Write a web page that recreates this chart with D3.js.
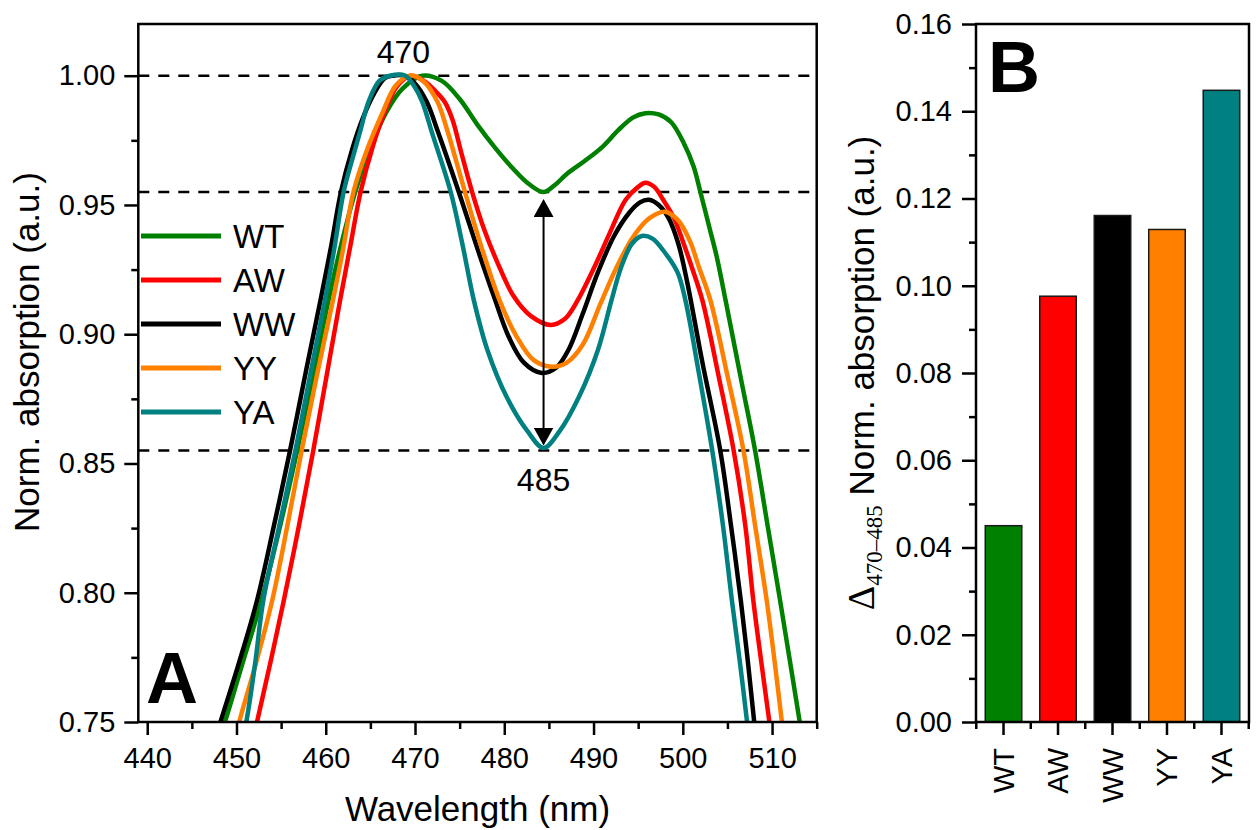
<!DOCTYPE html>
<html>
<head>
<meta charset="utf-8">
<script src="https://cdn.jsdelivr.net/npm/d3@7"></script>
<style>
body { margin: 0; background: #fff; }
text { font-family: "Liberation Sans", Arial, sans-serif; fill: #000; }
</style>
</head>
<body>
<svg id="chart" width="1256" height="830"></svg>
<script>
// ---- data ----
var seriesNames = ["WT", "AW", "WW", "YY", "YA"];
var seriesColors = ["#008000", "#ff0000", "#000000", "#ff8000", "#008080"];

// [wavelength nm, normalised absorption]
var wt = [[446.5,0.728],[448.7,0.75],[450.7,0.773],[452.8,0.797],[454.9,0.826],[456.8,0.855],[458.6,0.884],[460.3,0.913],[461.9,0.937],[463.3,0.955],[465.0,0.972],[466.8,0.986],[468.6,0.995],[470.8,1.0],[473.0,0.998],[475.0,0.991],[477.0,0.981],[479.0,0.972],[481.0,0.964],[482.8,0.958],[484.4,0.955],[485.6,0.9575],[487.0,0.962],[489.0,0.967],[491.0,0.9725],[492.8,0.979],[494.4,0.9838],[495.8,0.9855],[497.3,0.985],[498.7,0.982],[500.1,0.974],[501.2,0.965],[502.0,0.9546],[503.0,0.941],[503.8,0.930],[504.8,0.913],[506.5,0.883],[508.1,0.855],[509.5,0.826],[510.9,0.797],[513.1,0.75],[514.5,0.72]];
var aw = [[450.5,0.72],[452.3,0.75],[453.8,0.773],[455.3,0.797],[457.0,0.826],[458.6,0.855],[460.1,0.884],[461.6,0.913],[462.8,0.935],[463.9,0.955],[465.3,0.973],[466.6,0.986],[468.0,0.996],[469.5,1.0],[471.0,0.998],[472.3,0.994],[473.3,0.99],[474.2,0.983],[475.2,0.970],[476.4,0.955],[477.8,0.940],[479.2,0.928],[481.0,0.915],[483.0,0.907],[485.2,0.9036],[486.8,0.906],[488.2,0.913],[490.1,0.926],[491.8,0.939],[493.6,0.952],[495.0,0.957],[495.8,0.9586],[496.8,0.957],[497.8,0.952],[499.0,0.945],[500.0,0.936],[501.0,0.926],[502.2,0.913],[504.0,0.884],[505.7,0.855],[507.0,0.826],[507.9,0.797],[508.8,0.773],[509.7,0.75],[510.8,0.72]];
var ww = [[446.0,0.725],[448.2,0.75],[450.2,0.772],[452.3,0.797],[454.2,0.826],[456.0,0.855],[457.8,0.886],[459.4,0.913],[460.6,0.934],[461.7,0.955],[463.0,0.972],[464.2,0.984],[465.4,0.993],[466.6,0.999],[467.5,1.0],[468.8,1.0],[470.0,0.997],[471.3,0.99],[472.6,0.978],[474.9,0.955],[477.0,0.933],[478.9,0.914],[480.5,0.899],[482.2,0.889],[484.2,0.885],[485.8,0.887],[487.2,0.894],[488.8,0.908],[490.5,0.924],[492.3,0.938],[494.0,0.947],[495.2,0.951],[496.2,0.952],[497.3,0.950],[498.4,0.945],[499.5,0.935],[500.5,0.92],[502.2,0.889],[504.2,0.855],[505.4,0.826],[506.5,0.797],[507.3,0.773],[508.0,0.75],[509.0,0.72]];
var yy = [[448.5,0.725],[450.3,0.75],[452.2,0.773],[454.0,0.797],[455.7,0.826],[457.3,0.855],[459.0,0.884],[460.8,0.913],[462.0,0.934],[463.1,0.955],[464.7,0.972],[466.4,0.986],[467.8,0.996],[469.4,1.0],[470.9,0.998],[472.5,0.99],[473.6,0.979],[475.6,0.955],[477.6,0.932],[479.6,0.912],[481.4,0.899],[483.3,0.890],[485.4,0.8874],[487.0,0.889],[488.8,0.896],[490.8,0.912],[492.6,0.926],[494.5,0.938],[496.3,0.945],[498.0,0.9474],[499.5,0.944],[500.8,0.936],[501.8,0.926],[503.1,0.913],[505.0,0.884],[506.8,0.855],[508.1,0.826],[509.4,0.797],[510.3,0.773],[511.1,0.75],[512.0,0.725]];
var ya = [[449.3,0.72],[451.1,0.75],[452.1,0.773],[453.0,0.797],[454.8,0.826],[456.6,0.855],[458.3,0.885],[459.9,0.913],[461.0,0.934],[462.0,0.955],[463.0,0.968],[463.9,0.979],[464.8,0.99],[466.0,0.998],[467.2,1.0],[468.9,1.0],[469.9,0.996],[470.8,0.99],[471.9,0.978],[474.0,0.955],[475.3,0.935],[476.6,0.913],[478.1,0.894],[480.3,0.8755],[482.6,0.8625],[484.4,0.856],[486.2,0.8625],[488.4,0.876],[490.5,0.894],[492.0,0.913],[493.1,0.926],[494.3,0.935],[495.4,0.938],[496.6,0.937],[497.9,0.932],[499.4,0.924],[500.3,0.913],[501.8,0.885],[503.3,0.855],[504.5,0.826],[505.5,0.797],[506.4,0.773],[507.2,0.75],[508.0,0.725]];
var allSeries = [wt, aw, ww, yy, ya];

var dashLevels = [1.00, 0.955, 0.855];
var peakLabel = { nm: 468.7, text: "470" };
var dipLabel = { nm: 484.4, text: "485" };

var xTicksA = [440, 450, 460, 470, 480, 490, 500, 510];
var xMinorA = [445, 455, 465, 475, 485, 495, 505, 515];
var yTicksA = [0.75, 0.80, 0.85, 0.90, 0.95, 1.00];
var yMinorA = [0.775, 0.825, 0.875, 0.925, 0.975];

var barCategories = ["WT", "AW", "WW", "YY", "YA"];
var barValues = [0.045, 0.0976, 0.1161, 0.1129, 0.1448];
var yTicksB = [0, 0.02, 0.04, 0.06, 0.08, 0.10, 0.12, 0.14, 0.16];
var yMinorB = [0.01, 0.03, 0.05, 0.07, 0.09, 0.11, 0.13, 0.15];

// ---- layout ----
var A = { left: 138.3, right: 816.7, top: 24, bottom: 722 };
var B = { left: 976, right: 1249, top: 24, bottom: 722 };
var axisW = 2.5;
var tickFont = 29;

var svg = d3.select("#chart");
svg.append("rect").attr("width", 1256).attr("height", 830).attr("fill", "#fff");

//style an axis group: thick ticks, no domain
function styleAxis(g, size) {
  g.select(".domain").remove();
  g.selectAll(".tick line").attr("stroke", "#000").attr("stroke-width", axisW);
  g.selectAll(".tick text").style("font-size", size + "px").attr("fill", "#000");
}

// ================= panel A =================
var xA = d3.scaleLinear().domain([439, 515]).range([A.left, A.right]);
var yA = d3.scaleLinear().domain([0.75, 1.02]).range([A.bottom, A.top]);

svg.append("clipPath").attr("id", "clipA")
  .append("rect")
    .attr("x", A.left).attr("y", A.top)
    .attr("width", A.right - A.left).attr("height", A.bottom - A.top);

// dashed guide lines
svg.selectAll(".guide")
  .data(dashLevels)
  .enter()
  .append("line")
    .attr("x1", A.left).attr("x2", A.right)
    .attr("y1", function(d) { return yA(d); })
    .attr("y2", function(d) { return yA(d); })
    .attr("stroke", "#000")
    .attr("stroke-width", 2.5)
    .attr("stroke-dasharray", "11,9");

var line = d3.line()
  .x(function(d) { return xA(d[0]); })
  .y(function(d) { return yA(d[1]); })
  .curve(d3.curveCatmullRom.alpha(0.5));

svg.append("g").attr("clip-path", "url(#clipA)")
  .selectAll("path")
  .data(allSeries)
  .enter()
  .append("path")
    .attr("d", line)
    .attr("fill", "none")
    .attr("stroke", function(d, i) { return seriesColors[i]; })
    .attr("stroke-width", 4.5)
    .attr("stroke-linejoin", "round");

// double arrow between the two lower guide lines
var defs = svg.append("defs");
defs.append("marker")
    .attr("id", "head")
    .attr("markerUnits", "userSpaceOnUse")
    .attr("viewBox", "0 0 18 20")
    .attr("refX", 16).attr("refY", 10)
    .attr("markerWidth", 18).attr("markerHeight", 20)
    .attr("orient", "auto-start-reverse")
  .append("path")
    .attr("d", "M0,0L18,10L0,20Z")
    .attr("fill", "#000");

svg.append("line")
  .attr("x1", xA(dipLabel.nm)).attr("x2", xA(dipLabel.nm))
  .attr("y1", yA(0.955) + 9).attr("y2", yA(0.855) - 7)
  .attr("stroke", "#000")
  .attr("stroke-width", 2)
  .attr("marker-start", "url(#head)")
  .attr("marker-end", "url(#head)");

svg.append("text")
  .attr("x", xA(peakLabel.nm)).attr("y", 63)
  .attr("text-anchor", "middle")
  .style("font-size", "32px")
  .text(peakLabel.text);
svg.append("text")
  .attr("x", xA(dipLabel.nm)).attr("y", 491)
  .attr("text-anchor", "middle")
  .style("font-size", "32px")
  .text(dipLabel.text);

// frame
svg.append("rect")
  .attr("x", A.left).attr("y", A.top)
  .attr("width", A.right - A.left).attr("height", A.bottom - A.top)
  .attr("fill", "none").attr("stroke", "#000").attr("stroke-width", axisW);

// axes
var gyA = svg.append("g").attr("transform", "translate(" + A.left + ",0)")
  .call(d3.axisLeft(yA).tickValues(yTicksA).tickSize(14).tickPadding(9).tickFormat(d3.format(".2f")));
styleAxis(gyA, tickFont);
var gyA2 = svg.append("g").attr("transform", "translate(" + A.left + ",0)")
  .call(d3.axisLeft(yA).tickValues(yMinorA).tickSize(7).tickFormat(""));
styleAxis(gyA2, tickFont);

var gxA = svg.append("g").attr("transform", "translate(0," + A.bottom + ")")
  .call(d3.axisBottom(xA).tickValues(xTicksA).tickSize(13).tickPadding(12).tickFormat(d3.format("d")));
styleAxis(gxA, tickFont);
var gxA2 = svg.append("g").attr("transform", "translate(0," + A.bottom + ")")
  .call(d3.axisBottom(xA).tickValues(xMinorA).tickSize(7).tickFormat(""));
styleAxis(gxA2, tickFont);

svg.append("text")
  .attr("x", (A.left + A.right) / 2).attr("y", 821)
  .attr("text-anchor", "middle")
  .style("font-size", "35px")
  .text("Wavelength (nm)");
svg.append("text")
  .attr("transform", "translate(39,352) rotate(-90)")
  .attr("text-anchor", "middle")
  .style("font-size", "35px")
  .text("Norm. absorption (a.u.)");

// legend
var legend = svg.append("g").selectAll("g")
  .data(seriesNames)
  .enter()
  .append("g")
    .attr("transform", function(d, i) { return "translate(0," + (236 + i * 44) + ")"; });
legend.append("line")
  .attr("x1", 141).attr("x2", 221)
  .attr("stroke", function(d, i) { return seriesColors[i]; })
  .attr("stroke-width", 5);
legend.append("text")
  .attr("x", 233).attr("dy", "0.36em")
  .style("font-size", "33px")
  .text(function(d) { return d; });

svg.append("text")
  .attr("x", 146).attr("y", 703)
  .style("font-size", "72px").style("font-weight", "bold")
  .text("A");

// ================= panel B =================
var xB = d3.scaleBand().domain(barCategories).range([B.left, B.right])
  .paddingInner(0.33).paddingOuter(0.17);
var yB = d3.scaleLinear().domain([0, 0.16]).range([B.bottom, B.top]);

svg.selectAll(".bar")
  .data(barValues)
  .enter()
  .append("rect")
    .attr("x", function(d, i) { return xB(barCategories[i]); })
    .attr("width", xB.bandwidth())
    .attr("y", function(d) { return yB(d); })
    .attr("height", function(d) { return yB(0) - yB(d); })
    .attr("fill", function(d, i) { return seriesColors[i]; })
    .attr("stroke", "#1a1a1a")
    .attr("stroke-width", 1.5);

svg.append("rect")
  .attr("x", B.left).attr("y", B.top)
  .attr("width", B.right - B.left).attr("height", B.bottom - B.top)
  .attr("fill", "none").attr("stroke", "#000").attr("stroke-width", axisW);

var gyB = svg.append("g").attr("transform", "translate(" + B.left + ",0)")
  .call(d3.axisLeft(yB).tickValues(yTicksB).tickSize(14).tickPadding(10).tickFormat(d3.format(".2f")));
styleAxis(gyB, tickFont);
var gyB2 = svg.append("g").attr("transform", "translate(" + B.left + ",0)")
  .call(d3.axisLeft(yB).tickValues(yMinorB).tickSize(7).tickFormat(""));
styleAxis(gyB2, tickFont);

var gxB = svg.append("g").attr("transform", "translate(0," + B.bottom + ")")
  .call(d3.axisBottom(xB).tickSize(13).tickSizeOuter(0));
styleAxis(gxB, tickFont);
gxB.selectAll(".tick text")
  .attr("transform", "rotate(-90)")
  .attr("x", -26).attr("y", 0).attr("dy", "0.36em")
  .style("text-anchor", "end");

// minor ticks between the bars
var half = xB.step() * xB.paddingInner() / 2;
var minorB = barCategories.map(function(c) { return xB(c) - half; });
minorB.push(xB(barCategories[barCategories.length - 1]) + xB.bandwidth() + half);
svg.selectAll(".minorB")
  .data(minorB)
  .enter()
  .append("line")
    .attr("x1", function(d) { return d; }).attr("x2", function(d) { return d; })
    .attr("y1", B.bottom).attr("y2", B.bottom + 7)
    .attr("stroke", "#000").attr("stroke-width", axisW);

var yLabB = svg.append("text")
  .attr("transform", "translate(874,373) rotate(-90)")
  .attr("text-anchor", "middle");
yLabB.append("tspan")
  .style("font-family", "'Liberation Serif', 'Times New Roman', serif")
  .style("font-size", "38px")
  .text("\u0394");
yLabB.append("tspan")
  .style("font-family", "'Liberation Serif', 'Times New Roman', serif")
  .style("font-size", "23px")
  .attr("dy", 8)
  .text("470\u2013485");
yLabB.append("tspan")
  .style("font-size", "35px")
  .attr("dy", -8)
  .text(" Norm. absorption (a.u.)");

svg.append("text")
  .attr("x", 988).attr("y", 92)
  .style("font-size", "72px").style("font-weight", "bold")
  .text("B");
</script>
</body>
</html>
